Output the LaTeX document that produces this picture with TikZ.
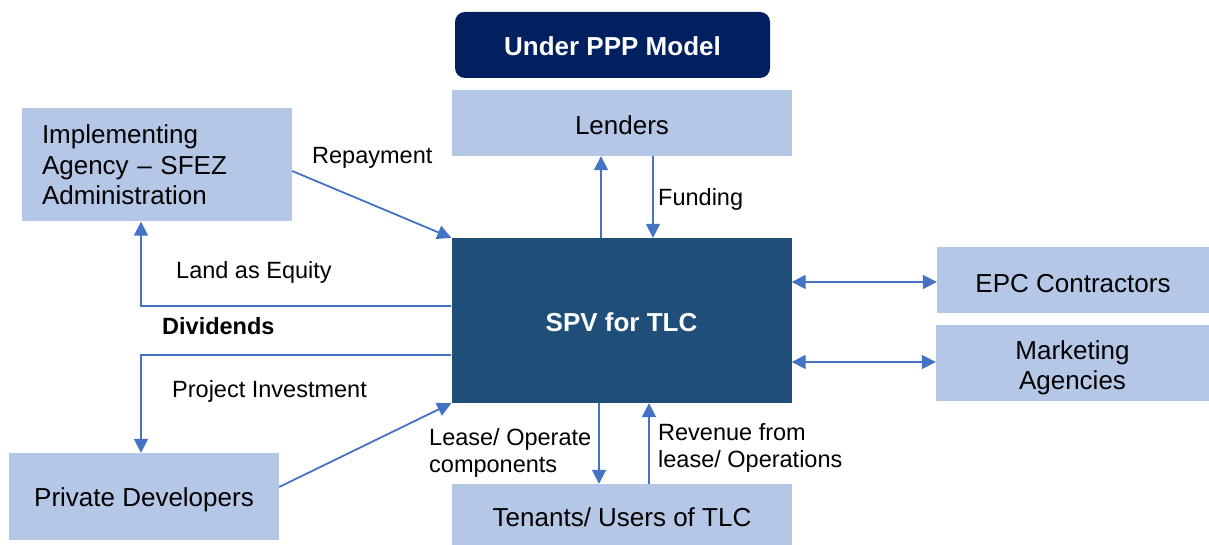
\documentclass[tikz,border=0pt]{standalone}
\usepackage{fontspec}
\setmainfont{Liberation Sans}
\usetikzlibrary{arrows.meta,positioning}
\definecolor{boxblue}{HTML}{B4C7E7}
\definecolor{spvblue}{HTML}{1F4E79}
\definecolor{navy}{HTML}{002060}
\definecolor{linkblue}{HTML}{4472C4}
\begin{document}
\begin{tikzpicture}[x=1pt,y=-1pt,
  party/.style={rectangle, fill=boxblue, inner sep=0pt, align=center,
    font=\fontsize{26}{30}\selectfont},
  oneline/.style={text height=24pt, text depth=0pt},
  lbl/.style={inner sep=0pt, anchor=base west, font=\fontsize{23.5}{27}\selectfont},
  link/.style={draw=linkblue, line width=1.8pt,
    -{Triangle[length=14pt,width=14pt]}},
  biglink/.style={draw=linkblue, line width=1.8pt,
    {Triangle[length=14pt,width=14pt]}-{Triangle[length=14pt,width=14pt]}}]
\useasboundingbox (0,0) rectangle (1209,545);

% heading
\node[rectangle, rounded corners=10pt, fill=navy, minimum width=315pt,
  minimum height=66pt, text=white, text height=21pt, text depth=0pt,
  font=\bfseries\fontsize{26}{30}\selectfont]
  (title) at (612.5,45) {Under PPP Model};

% parties
\node[party, oneline, minimum width=340pt, minimum height=66pt] (lenders) at (622,123) {Lenders};
\node[party, minimum height=113pt, text width=230pt, inner xsep=20pt, align=left,
  font=\fontsize{26}{30.5}\selectfont]
  (impl) at (157,165) {Implementing\\Agency -- SFEZ\\Administration};
\node[rectangle, fill=spvblue, minimum width=340pt, minimum height=165pt,
  text=white, text height=21pt, text depth=0pt,
  font=\bfseries\fontsize{26}{30}\selectfont]
  (spv) at (621.5,320.5) {SPV for TLC};
\node[party, oneline, minimum width=272pt, minimum height=66pt] (epc) at (1073,280) {EPC Contractors};
\node[party, minimum width=273pt, minimum height=76pt, text width=273pt,
  text height=28pt, text depth=35pt] (mkt) at (1072.5,363) {Marketing\\Agencies};
\node[party, text height=24pt, text depth=5pt, minimum width=270pt, minimum height=87pt]
  (pd) at (144,496.5) {Private Developers};
\node[party, oneline, minimum width=340pt, minimum height=61pt] (ten) at (622,514.5) {Tenants/ Users of TLC};

% flows between the SPV and the parties
\draw[link] ([yshift=-6pt]impl.east) -- (spv.north west);
\draw[link] ([yshift=14.5pt]spv.west) -| ([xshift=-16pt]impl.south);
\draw[link] ([yshift=-34.5pt]spv.west) -| ([xshift=-3pt]pd.north);
\draw[link] ([yshift=9.5pt]pd.east) -- (spv.south west);

\draw[link] ([xshift=-20.5pt]spv.north) -- ([xshift=-20.5pt]spv.north |- lenders.south);
\draw[link] ([xshift=31.5pt]spv.north |- lenders.south) -- ([xshift=31.5pt]spv.north);

\draw[link] ([xshift=-22.5pt]spv.south) -- ([xshift=-22.5pt]spv.south |- ten.north);
\draw[link] ([xshift=27.5pt]spv.south |- ten.north) -- ([xshift=27.5pt]spv.south);

\draw[biglink] ([yshift=-2pt]spv.east |- epc.west) -- ([yshift=-2pt]epc.west);
\draw[biglink] ([yshift=1pt]spv.east |- mkt.west) -- ([yshift=1pt]mkt.west);

% flow labels
\node[lbl] (lrep) at (312,164) {Repayment};
\node[lbl] (lland) at (176,278) {Land as Equity};
\node[lbl, font=\bfseries\fontsize{23.5}{27}\selectfont] (ldiv) at (162,334) {Dividends};
\node[lbl] (linv) at (172,397) {Project Investment};
\node[lbl] (lfund) at (658,206) {Funding};
\node[lbl, anchor=north west, align=left] (llease) at (429,428) {Lease/ Operate\\components};
\node[lbl, anchor=north west, align=left] (lrev) at (658,423.5) {Revenue from\\lease/ Operations};
\end{tikzpicture}
\end{document}
